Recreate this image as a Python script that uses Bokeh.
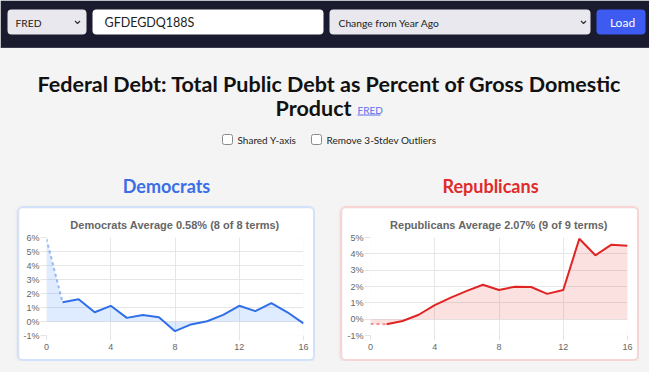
from bokeh.plotting import figure
from bokeh.models import Range1d, FixedTicker, PrintfTickFormatter, Spacer
from bokeh.layouts import column, row
from bokeh.core.properties import value
from bokeh.embed import file_html
from bokeh.resources import INLINE

# ---------------- data ----------------
terms_x = list(range(17))
dem_vals = [5.9, 1.38, 1.59, 0.66, 1.12, 0.26, 0.47, 0.31, -0.69, -0.21, 0.02,
            0.47, 1.12, 0.74, 1.31, 0.66, -0.14]
rep_vals = [-0.29, -0.31, -0.11, 0.27, 0.86, 1.32, 1.73, 2.11, 1.79, 1.99, 1.97,
            1.55, 1.79, 4.92, 3.91, 4.56, 4.50]
x_ticks = [0, 4, 8, 12, 16]
dem_y_ticks = [-1, 0, 1, 2, 3, 4, 5, 6]
rep_y_ticks = [-1, 0, 1, 2, 3, 4, 5]
dem_title = "Democrats Average 0.58% (8 of 8 terms)"
rep_title = "Republicans Average 2.07% (9 of 9 terms)"
page_title_1 = "Federal Debt: Total Public Debt as Percent of Gross Domestic"
page_title_2 = "Product"
source_link = "FRED"
source_select = "FRED"
series_id = "GFDEGDQ188S"
transform = "Change from Year Ago"
load_label = "Load"
check_labels = ["Shared Y-axis", "Remove 3-Stdev Outliers"]
party_labels = ["Democrats", "Republicans"]

UI_FONT = "Lato"
CHART_FONT = "Liberation Sans"
PAGE_BG = "#f4f4f4"

# ---------------- header canvas ----------------
hdr = figure(width=649, height=206, x_range=Range1d(0, 649), y_range=Range1d(206, 0),
             output_backend="svg", toolbar_location=None, x_axis_type=None, y_axis_type=None,
             min_border=0, min_border_left=0, min_border_right=0, min_border_top=0,
             min_border_bottom=0, outline_line_color=None,
             background_fill_color=PAGE_BG, border_fill_color=PAGE_BG)

hdr.quad(left=[0], right=[649], top=[0], bottom=[47], fill_color="#1b1b2f", line_color=None)
hdr.segment(x0=[0], y0=[47], x1=[649], y1=[47], line_color="#3b3b4f", line_width=1)

hdr.quad(left=[7, 92, 329, 596], right=[86, 323, 590, 645], top=[9, 9, 9, 9],
         bottom=[34, 34, 34, 34],
         fill_color=["#e8e8ee", "#ffffff", "#e8e8ee", "#3d5af1"], line_color=None,
         border_radius=4)
hdr.multi_line(xs=[[74.5, 77, 79.5], [580.5, 583, 585.5]], ys=[[20.5, 23, 20.5], [20.5, 23, 20.5]],
               line_color="#333333", line_width=1.2)
hdr.text(x=[15, 338], y=[22, 22], text=[source_select, transform],
         text_font=value(UI_FONT), text_font_size=value("10.3px"), text_color="#222222",
         text_baseline="middle", text_align="left")
hdr.text(x=[104], y=[22], text=[series_id],
         text_font=value(UI_FONT), text_font_size=value("12.5px"), text_color="#222222",
         text_baseline="middle", text_align="left")
hdr.text(x=[622], y=[22], text=[load_label], text_font=value(UI_FONT),
         text_font_size=value("12px"), text_color="#ffffff",
         text_baseline="middle", text_align="center")

# page title
hdr.text(x=[329], y=[83], text=[page_title_1], text_font=value(UI_FONT),
         text_font_size=value("21.5px"), text_font_style="bold", text_color="#111111",
         text_baseline="middle", text_align="center")
hdr.text(x=[351], y=[107], text=[page_title_2], text_font=value(UI_FONT),
         text_font_size=value("21.5px"), text_font_style="bold", text_color="#111111",
         text_baseline="middle", text_align="right")
hdr.text(x=[357], y=[109], text=[source_link], text_font=value(UI_FONT),
         text_font_size=value("10px"), text_color="#5b6ff0",
         text_baseline="middle", text_align="left")
hdr.segment(x0=[357], y0=[114.5], x1=[380], y1=[114.5], line_color="#5b6ff0", line_width=1)

# checkboxes
hdr.quad(left=[222, 311], right=[232, 321], top=[134, 134], bottom=[144, 144],
         fill_color="#ffffff", line_color="#8a8a8a", line_width=1, border_radius=2)
hdr.text(x=[237, 326], y=[139.5, 139.5], text=check_labels, text_font=value(UI_FONT),
         text_font_size=value("10px"), text_color="#222222",
         text_baseline="middle", text_align="left")

# party headings
hdr.text(x=[166, 490], y=[185, 185], text=party_labels, text_font=value(UI_FONT),
         text_font_size=value("18px"), text_font_style="bold",
         text_color=["#3a6ee8", "#e02b2b"], text_baseline="middle", text_align="center")


# ---------------- chart cards ----------------
def make_chart(vals, y_lo, y_hi, y_ticks, line_color, fill_color, fill_alpha, title,
               border_color, width, left_border, top_border, title_offset):
    p = figure(width=width, height=155, x_range=Range1d(0, 16), y_range=Range1d(y_lo, y_hi),
               output_backend="svg", toolbar_location=None,
               min_border_left=left_border, min_border_right=14,
               min_border_top=top_border, min_border_bottom=28,
               background_fill_color="white", border_fill_color="white",
               outline_line_color=None,
               styles={"border": "2px solid " + border_color, "border-radius": "6px",
                       "overflow": "hidden",
                       "box-shadow": "0 1px 3px rgba(0,0,0,0.10)"})
    p.title.text = title
    p.title.align = "center"
    p.title.text_font = CHART_FONT
    p.title.text_font_size = "11px"
    p.title.text_font_style = "bold"
    p.title.text_color = "#666666"
    p.title.offset = title_offset
    p.title.standoff = 13

    p.varea(x=terms_x, y1=0, y2=vals, fill_color=fill_color, fill_alpha=fill_alpha)
    p.line(terms_x[:2], vals[:2], line_color=line_color, line_alpha=0.45,
           line_width=2, line_dash="3 3")
    p.line(terms_x[1:], vals[1:], line_color=line_color, line_width=2)

    p.xaxis.ticker = FixedTicker(ticks=x_ticks)
    p.yaxis.ticker = FixedTicker(ticks=y_ticks)
    p.yaxis.formatter = PrintfTickFormatter(format="%d%%")
    p.xgrid.ticker = FixedTicker(ticks=x_ticks)
    for ax in (p.xaxis, p.yaxis):
        ax.axis_line_color = None
        ax.major_tick_in = 0
        ax.minor_tick_line_color = None
        ax.major_tick_line_color = "#e4e4e4"
        ax.major_label_text_font = CHART_FONT
        ax.major_label_text_font_size = "9px"
        ax.major_label_text_color = "#666666"
    p.yaxis.major_tick_out = 6
    p.yaxis.major_label_standoff = 1
    p.xaxis.major_tick_out = 5
    p.xaxis.major_label_standoff = 3
    p.grid.grid_line_color = "#e6e6e6"
    return p


dem_fig = make_chart(dem_vals, -1, 6, dem_y_ticks, "#2f6fe8", "#3b82f6", 0.16, dem_title,
                     "#d3e1fb", 298, 27, 29, -8.5)
rep_fig = make_chart(rep_vals, -1, 5, rep_y_ticks, "#e02424", "#ef4444", 0.16, rep_title,
                     "#f8d4d4", 299, 28, 28, -9)

bg = {"background-color": PAGE_BG}
cards = row(Spacer(width=17, height=155, styles=bg), dem_fig,
            Spacer(width=25, height=155, styles=bg), rep_fig,
            Spacer(width=10, height=155, styles=bg), styles=bg)
page = column(hdr, cards, Spacer(width=649, height=11, styles=bg), styles=bg)

open("out.html", "w").write(file_html(page, INLINE))
